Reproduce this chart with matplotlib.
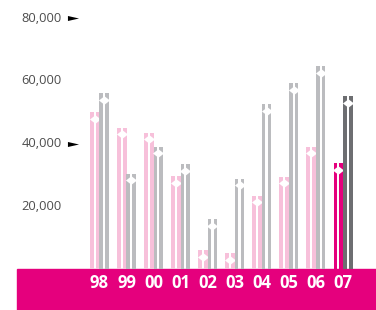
import matplotlib
matplotlib.use("Agg")
import matplotlib.pyplot as plt
from matplotlib.patches import Rectangle
from matplotlib.path import Path
import numpy as np

years = ['98', '99', '00', '01', '02', '03', '04', '05', '06', '07']
pink_vals = [50000, 45000, 43500, 29500, 6000, 5000, 23300, 29400, 39000, 33700]
gray_vals = [56000, 30300, 39000, 33400, 15800, 28700, 52500, 59200, 64700, 55000]
ytick_vals = [80000, 60000, 40000, 20000]
arrow_ticks = [80000, 40000]

pink = '#f7c0da'
gray = '#bbbcbf'
magenta = '#e5007d'
dark_gray = '#6d6e71'

W, H = 376, 310
band_top = 269           # pixel row of zero line
px_per_unit = 62.75 / 20000
step = 27.06             # pixels between years
x0 = 99.5                # pixel centre of first year


def px(p):
    # pixel column -> data x
    return (p - x0) / step


fig = plt.figure(figsize=(W / 100, H / 100), dpi=100)
ax = fig.add_axes([0, (H - band_top) / H, 1, band_top / H])
ax.set_xlim(px(0), px(W))
ax.set_ylim(0, band_top / px_per_unit)
ax.axis('off')

# magenta band at the bottom
fig.patches.append(Rectangle((17 / W, 0), (W - 17) / W, (H - band_top) / H,
                             transform=fig.transFigure, color=magenta, zorder=-1))

stripe = 3.7 / step
half_gap = 1.1 / step
bar_off = 4.7 / step
diamond = Path([(0, -1), (1.3, 0), (0, 1), (-1.3, 0), (0, -1)],
               [Path.MOVETO, Path.LINETO, Path.LINETO, Path.LINETO, Path.CLOSEPOLY])
notch = 6.5 / px_per_unit


def draw_bar(xc, val, color, z):
    for s in (-1, 1):
        ax.bar(xc + s * (half_gap + stripe / 2), val, width=stripe, color=color,
               linewidth=0, zorder=z)
    ax.plot([xc], [val - notch], marker=diamond, markersize=8, color='white',
            markeredgewidth=0, linestyle='none', zorder=z + 0.5)


x = np.arange(len(years))
for i in x:
    last = i == len(years) - 1
    draw_bar(i - bar_off, pink_vals[i], magenta if last else pink, 2)
    draw_bar(i + bar_off, gray_vals[i], dark_gray if last else gray, 3)

for i, lab in enumerate(years):
    ax.text(i, -(283.5 - band_top) / band_top, lab, transform=ax.get_xaxis_transform(),
            ha='center', va='center', color='white', fontsize=12,
            fontweight='bold', family='Open Sans', clip_on=False, zorder=5)

for v in ytick_vals:
    ax.text(px(62), v, f'{v:,}', ha='right', va='center', color='#4d4d4d',
            fontsize=9.3, family='Open Sans')

arrow = Path([(-1, -0.45), (1, 0), (-1, 0.45), (-1, -0.45)],
             [Path.MOVETO, Path.LINETO, Path.LINETO, Path.CLOSEPOLY])
ax.plot([px(73)] * len(arrow_ticks), arrow_ticks, marker=arrow, markersize=8,
        color='black', markeredgewidth=0, linestyle='none')

fig.savefig('out.png', dpi=100)
